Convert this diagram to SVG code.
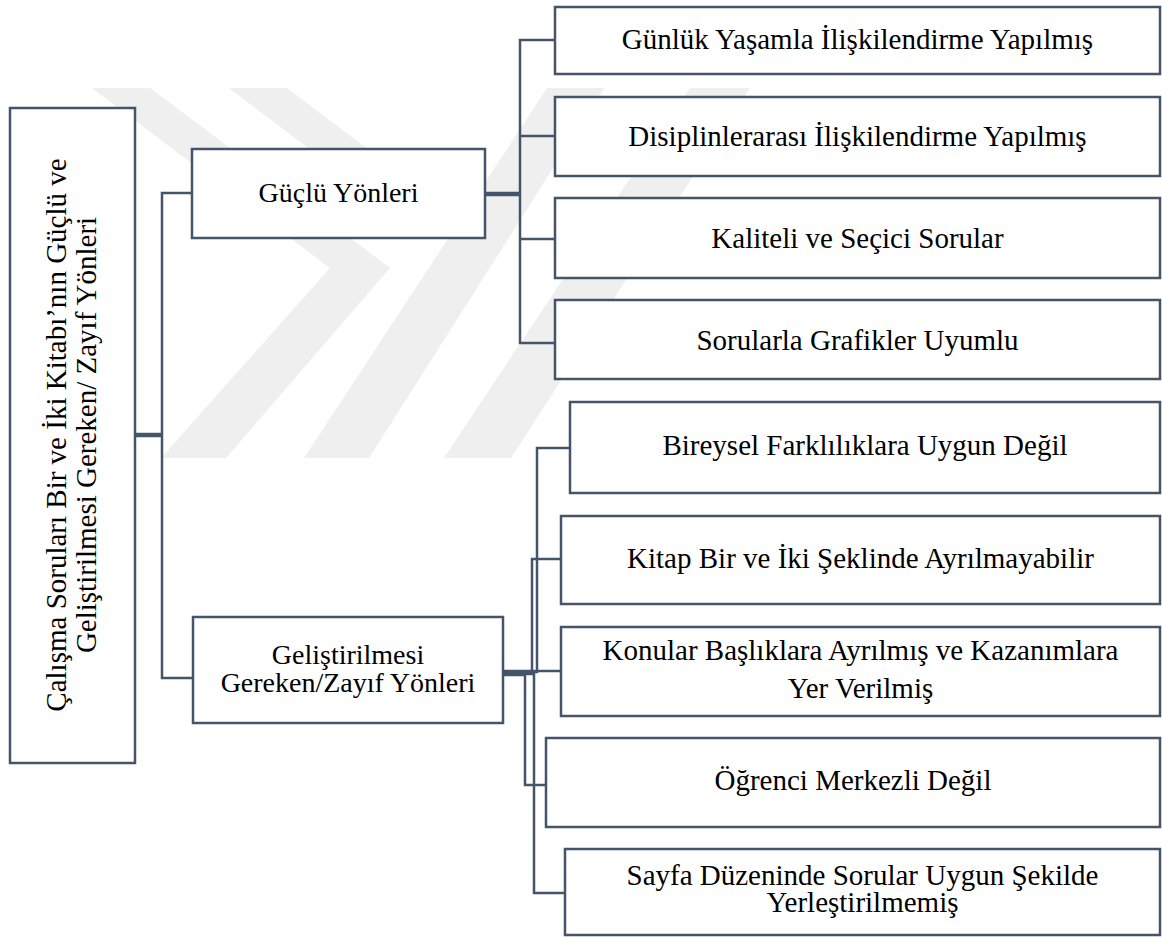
<svg xmlns="http://www.w3.org/2000/svg" width="1162" height="940" viewBox="0 0 1162 940">
<style>
.box{fill:#ffffff;stroke:#44546a;stroke-width:2.5}
.t{font-family:"Liberation Serif","Times New Roman",serif;font-size:29px;fill:#000;text-anchor:middle}
.m{font-size:28px}
.c{fill:none;stroke:#44546a;stroke-width:2.5}
.ct{fill:none;stroke:#44546a;stroke-width:4.5}
.wm{fill:#efefef}
</style>
<rect width="1162" height="940" fill="#ffffff"/>
<g id="watermark">
<polygon class="wm" points="92,88 150,88 390,268 226,458 161,458 330,268"/>
<polygon class="wm" points="229,88 287,88 480,234 422,234"/>
<polygon class="wm" points="547,88 604,88 369,458 304,458"/>
<polygon class="wm" points="690,88 750,88 511,458 444,458"/>
</g>
<g id="connectors">
<path class="ct" d="M135,435 H162"/>
<path class="c" d="M193,193 H162 V678 H193"/>
<path class="ct" d="M485,194 H520"/>
<path class="c" d="M555,40 H520 V343 H555 M520,136 H555 M520,239 H555"/>
<path class="c" d="M503,672 H537 V448 H570"/>
<path class="c" d="M503,674 H532 V559 H561"/>
<path class="c" d="M503,671 H561"/>
<path class="c" d="M503,675 H525 V785 H546"/>
<path class="c" d="M503,673 H534 V893 H565"/>
</g>
<g id="root">
<rect class="box" x="10" y="108" width="125" height="655"/>
<text class="t" transform="translate(66,435) rotate(-90)">Çalışma Soruları Bir ve İki Kitabı’nın Güçlü ve</text>
<text class="t" transform="translate(96,435) rotate(-90)">Geliştirilmesi Gereken/ Zayıf Yönleri</text>
</g>
<g id="guclu">
<rect class="box" x="192" y="149" width="293" height="89"/>
<text class="t m" x="338.5" y="202">Güçlü Yönleri</text>
</g>
<g id="gelistirilmesi">
<rect class="box" x="193" y="617" width="310" height="106"/>
<text class="t m" x="348" y="664">Geliştirilmesi</text>
<text class="t m" x="348" y="692">Gereken/Zayıf Yönleri</text>
</g>
<g id="g1">
<rect class="box" x="555" y="7" width="605" height="67"/>
<text class="t" x="857.5" y="49">Günlük Yaşamla İlişkilendirme Yapılmış</text>
</g>
<g id="g2">
<rect class="box" x="555" y="97" width="605" height="79"/>
<text class="t" x="857.5" y="146">Disiplinlerarası İlişkilendirme Yapılmış</text>
</g>
<g id="g3">
<rect class="box" x="555" y="198" width="605" height="80"/>
<text class="t" x="857.5" y="248">Kaliteli ve Seçici Sorular</text>
</g>
<g id="g4">
<rect class="box" x="555" y="300" width="605" height="79"/>
<text class="t" x="857.5" y="350">Sorularla Grafikler Uyumlu</text>
</g>
<g id="z1">
<rect class="box" x="570" y="402" width="590" height="91"/>
<text class="t" x="865" y="455">Bireysel Farklılıklara Uygun Değil</text>
</g>
<g id="z2">
<rect class="box" x="561" y="516" width="599" height="88"/>
<text class="t" x="860.5" y="568">Kitap Bir ve İki Şeklinde Ayrılmayabilir</text>
</g>
<g id="z3">
<rect class="box" x="561" y="627" width="599" height="89"/>
<text class="t" x="860.5" y="660">Konular Başlıklara Ayrılmış ve Kazanımlara</text>
<text class="t" x="860.5" y="698">Yer Verilmiş</text>
</g>
<g id="z4">
<rect class="box" x="546" y="738" width="614" height="89"/>
<text class="t" x="853" y="790">Öğrenci Merkezli Değil</text>
</g>
<g id="z5">
<rect class="box" x="565" y="849" width="595" height="86"/>
<text class="t" x="862.5" y="885">Sayfa Düzeninde Sorular Uygun Şekilde</text>
<text class="t" x="862.5" y="912">Yerleştirilmemiş</text>
</g>
</svg>
